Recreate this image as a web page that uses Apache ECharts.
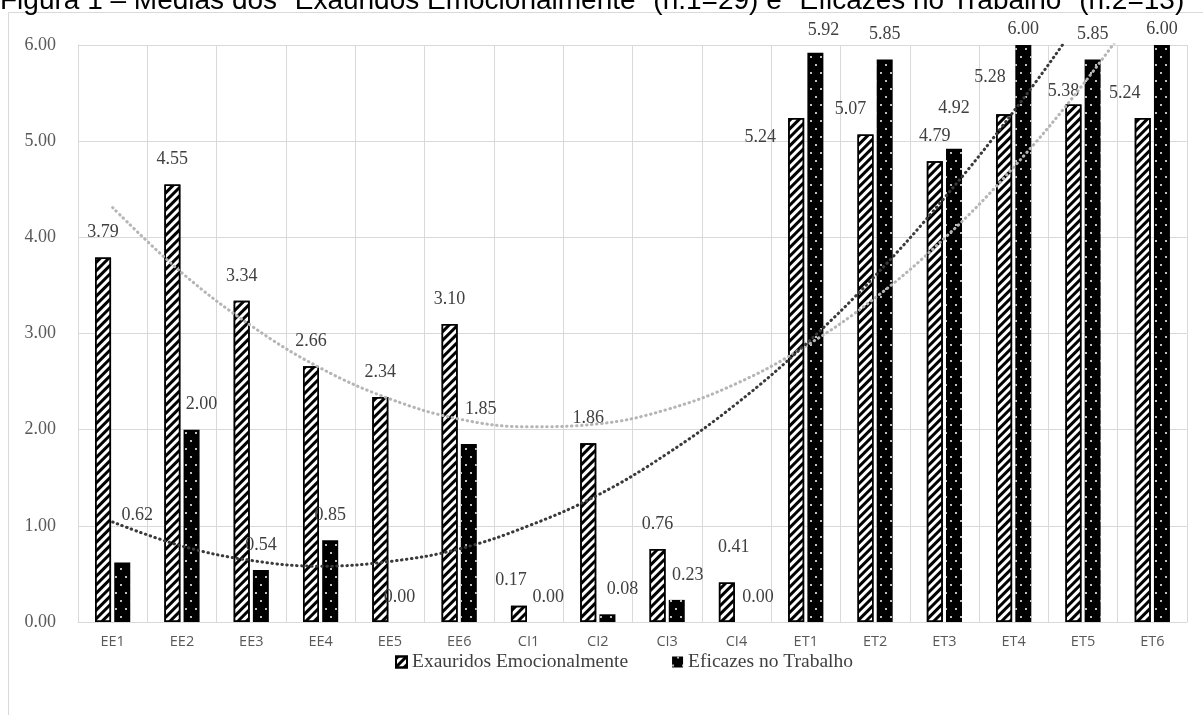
<!DOCTYPE html>
<html>
<head>
<meta charset="utf-8">
<script src="https://cdn.jsdelivr.net/npm/echarts@6/dist/echarts.min.js"></script>
<style>
  html, body { margin: 0; padding: 0; background: #fff; }
  #chart { width: 1203px; height: 715px; }
</style>
</head>
<body>
<div id="chart"></div>
<script>
const categories = ['EE1', 'EE2', 'EE3', 'EE4', 'EE5', 'EE6', 'CI1', 'CI2', 'CI3', 'CI4', 'ET1', 'ET2', 'ET3', 'ET4', 'ET5', 'ET6'];
const exauridos = [3.79, 4.55, 3.34, 2.66, 2.34, 3.10, 0.17, 1.86, 0.76, 0.41, 5.24, 5.07, 4.79, 5.28, 5.38, 5.24];
const eficazes = [0.62, 2.00, 0.54, 0.85, 0.00, 1.85, 0.00, 0.08, 0.23, 0.00, 5.92, 5.85, 4.92, 6.00, 5.85, 6.00];
// dotted trend curves at each category (above 6 is clipped)
const trendExauridos = [4.31, 3.63, 3.08, 2.64, 2.32, 2.11, 2.03, 2.06, 2.21, 2.48, 2.87, 3.37, 3.99, 4.73, 5.59, 6.57];
const trendEficazes = [1.04, 0.79, 0.64, 0.58, 0.63, 0.76, 1.00, 1.32, 1.75, 2.27, 2.89, 3.60, 4.41, 5.31, 6.31, 7.41];
const yTicks = [0, 1, 2, 3, 4, 5, 6];

// hand-placed label nudges, like the original
const nudge1 = { 6: [-8, 0], 9: [7, -10], 10: [-36, 44], 11: [-15, 0], 13: [-14, -12], 14: [-10, 12], 15: [-18, 0] };
const nudge2 = { 0: [15, -22], 1: [10, 0], 5: [12, -10], 6: [10, 0], 7: [15, 0], 8: [11, 0], 9: [12, 0], 10: [8, 3], 12: [0, -16], 13: [0, 9], 15: [0, 9] };

function withNudge(values, nudge) {
  return values.map(function (v, i) {
    if (nudge[i]) return { value: v, label: { offset: nudge[i] } };
    return v;
  });
}

const chart = echarts.init(document.getElementById('chart'));

const labelStyle = {
  show: true,
  position: 'top',
  distance: 16,
  fontFamily: 'Liberation Serif',
  fontSize: 18,
  color: '#404040',
  formatter: function (p) { return p.value.toFixed(2); }
};

const option = {
  animation: false,
  backgroundColor: '#fff',
  graphic: [
    {
      type: 'rect',
      shape: { x: 8.5, y: 12.5, width: 1210, height: 720 },
      style: { fill: 'none', stroke: '#d9d9d9', lineWidth: 1 },
      silent: true
    },
    {
      type: 'text',
      left: 0,
      top: -13,
      style: {
        text: 'Figura 1 – Médias dos "Exauridos Emocionalmente" (n.1=29) e "Eficazes no Trabalho" (n.2=13)',
        fontFamily: 'Liberation Sans',
        fontSize: 28,
        fill: '#000'
      },
      silent: true
    }
  ],
  grid: { left: 78, right: 16, top: 45, bottom: 93 },
  legend: {
    data: ['Exauridos Emocionalmente', 'Eficazes no Trabalho'],
    bottom: 38,
    left: 390,
    icon: 'rect',
    itemWidth: 11,
    itemHeight: 11,
    itemGap: 44,
    textStyle: { fontFamily: 'Liberation Serif', fontSize: 19.5, color: '#404040', padding: [0, 0, 0, 0] }
  },
  xAxis: {
    type: 'category',
    data: categories,
    axisTick: { show: false },
    axisLine: { lineStyle: { color: '#d9d9d9', width: 1 } },
    splitLine: { show: true, lineStyle: { color: '#d9d9d9', width: 1 } },
    axisLabel: { fontFamily: 'Open Sans', fontSize: 14.5, color: '#595959', margin: 12 }
  },
  yAxis: {
    type: 'value',
    min: yTicks[0],
    max: yTicks[yTicks.length - 1],
    interval: 1,
    axisLine: { show: true, lineStyle: { color: '#d9d9d9' } },
    axisTick: { show: false },
    splitLine: { lineStyle: { color: '#d9d9d9', width: 1 } },
    axisLabel: {
      fontFamily: 'Liberation Serif',
      fontSize: 18,
      color: '#595959',
      margin: 22,
      formatter: function (v) { return v.toFixed(2); }
    }
  },
  series: [
    {
      name: 'Exauridos Emocionalmente',
      type: 'bar',
      barWidth: 16,
      barGap: '20%',
      data: withNudge(exauridos, nudge1),
      itemStyle: {
        color: '#fff',
        borderColor: '#000',
        borderWidth: 1.5,
        decal: {
          symbol: 'rect',
          color: '#000',
          symbolSize: 1,
          dashArrayX: [1, 0],
          dashArrayY: [2.2, 2.2],
          rotation: -Math.PI / 4
        }
      },
      label: labelStyle,
      z: 2
    },
    {
      name: 'Eficazes no Trabalho',
      type: 'bar',
      barWidth: 16,
      data: withNudge(eficazes, nudge2),
      itemStyle: {
        color: '#000',
        borderWidth: 0,
        decal: {
          symbol: 'circle',
          color: '#fff',
          symbolSize: 1,
          dashArrayX: [[2, 8], [0, 5, 2, 3]],
          dashArrayY: [2, 6]
        }
      },
      label: labelStyle,
      z: 2
    },
    {
      name: 'trendExauridos',
      type: 'line',
      data: trendExauridos,
      smooth: 0.4,
      symbol: 'none',
      clip: true,
      lineStyle: { color: '#b5b5b5', width: 3, type: [0.5, 4.5], cap: 'round' },
      z: 3
    },
    {
      name: 'trendEficazes',
      type: 'line',
      data: trendEficazes,
      smooth: 0.4,
      symbol: 'none',
      clip: true,
      lineStyle: { color: '#3a3a3a', width: 3, type: [0.5, 4.5], cap: 'round' },
      z: 3
    }
  ]
};

chart.setOption(option);
</script>
</body>
</html>
